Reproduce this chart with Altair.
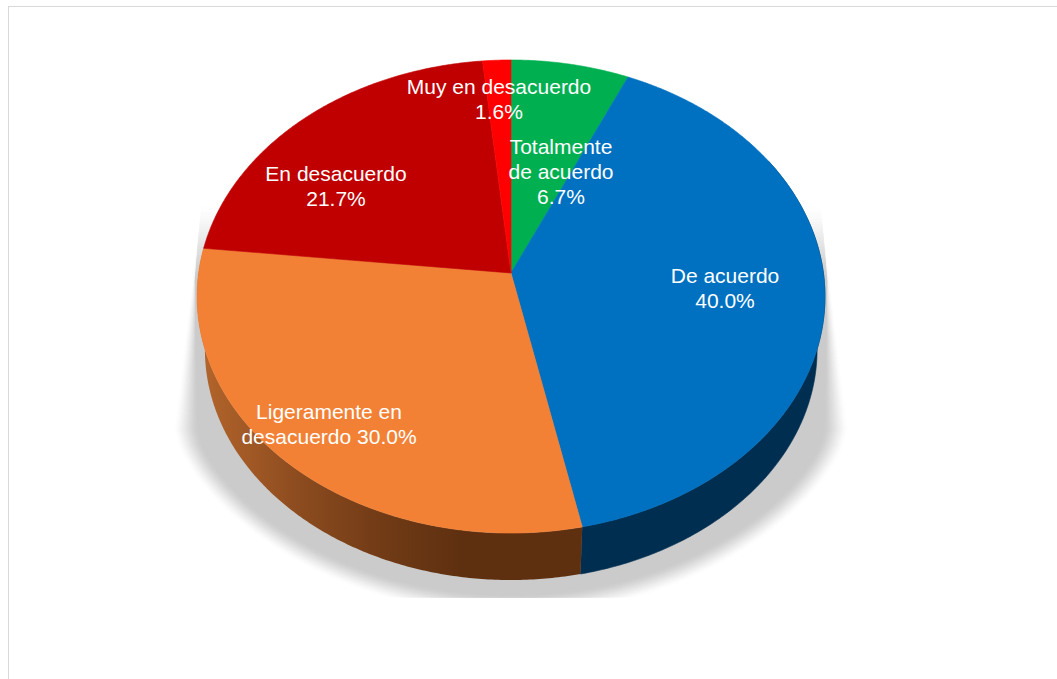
import numpy as np
import altair as alt

# Survey answers, clockwise from twelve o'clock
categories = ["Totalmente de acuerdo", "De acuerdo", "Ligeramente en desacuerdo",
              "En desacuerdo", "Muy en desacuerdo"]
percentages = [6.7, 40.0, 30.0, 21.7, 1.6]
face_colors = ["#00B050", "#0070C0", "#F38135", "#C00000", "#FF0000"]
label_lines = [["Totalmente", "de acuerdo"], ["De acuerdo"], ["Ligeramente en"],
               ["En desacuerdo"], ["Muy en desacuerdo"]]
label_x = [561, 725, 329, 336, 499]
label_y = [148, 277, 413, 175, 88]

FONT = "Liberation Sans"
W, H = 1057, 679
CX, APEX_Y = 511.0, 273.0
A, B, K = 312.4, 234.2, 0.0994   # tilted disc: perspective projection of the pie circle
DEPTH_SCALE, RIM_Y = 0.975, 326.5


def rim(t_deg, scale=1.0, y0=APEX_Y):
    t = np.radians(np.asarray(t_deg, dtype=float))
    d = 1 + K * np.cos(t)
    return CX + scale * A * np.sin(t) / d, y0 - scale * B * np.cos(t) / d


def feature(points, fill):
    ring = [[float(x), float(y)] for x, y in points]
    ring.append(ring[0])
    return {"type": "Feature", "properties": {"fill": fill},
            "geometry": {"type": "Polygon", "coordinates": [ring]}}


edges = np.cumsum([0.0] + percentages) * 3.6

# Top faces of the wedges
faces = []
for c, lo, hi in zip(face_colors, edges[:-1], edges[1:]):
    ts = np.linspace(lo, hi, max(int(hi - lo) * 2, 4))
    xs, ys = rim(ts)
    faces.append(feature([(CX, APEX_Y)] + list(zip(xs, ys)), c))


def wall(lo, hi, fill):
    ts = np.linspace(lo, hi, 200)
    tx, ty = rim(ts)
    bx, by = rim(ts[::-1], DEPTH_SCALE, RIM_Y)
    return feature(list(zip(tx, ty)) + list(zip(bx, by)), fill)


# Soft drop shadow: nested outlines running from white to the shadow grey.
# Paler outlines reach further up the flanks, so the shadow fades out towards the top.
SHADOW_LEVELS = 28
shadow = []
for i in range(SHADOW_LEVELS):
    f = i / (SHADOW_LEVELS - 1)
    ease = 0.5 * f + 0.5 * f * f * (3 - 2 * f)
    grey = int(round(255 + (203 - 255) * ease))
    rx, ry = 337 - 24 * f, 185 - 20 * f
    dx = np.linspace(-rx, rx, 160)
    dy = ry * (1 - (dx / rx) ** 2).clip(0) ** (2 / 3)
    lower = list(zip(CX + dx, np.minimum(430 + dy, 597)))
    y_top = 205 + 75 * f
    half = 309 + 7 * f
    top = [(CX + half, y_top), (CX + 250, y_top), (CX - 250, y_top), (CX - half, y_top)]
    shadow.append(feature(lower + top, f"rgb({grey},{grey},{grey})"))

proj = dict(type="identity", scale=1, translate=[0, 0])


def polygons(features):
    return (alt.Chart(alt.Data(values=features))
            .mark_geoshape(strokeWidth=0.6)
            .encode(fill=alt.Fill("properties.fill:N", scale=None),
                    stroke=alt.Stroke("properties.fill:N", scale=None))
            .project(**proj))


shadow_layer = polygons(shadow)
blue_wall = polygons([wall(60, edges[2], "#002E50")])
orange_wall = (alt.Chart(alt.Data(values=[wall(edges[2], edges[3], "#000")]))
               .mark_geoshape(strokeWidth=0, fill=alt.Gradient(
                   gradient="linear", x1=0, x2=1, y1=0, y2=0,
                   stops=[alt.GradientStop(offset=0.0, color="#B4662C"),
                          alt.GradientStop(offset=0.1, color="#A65C27"),
                          alt.GradientStop(offset=0.28, color="#8A4A1E"),
                          alt.GradientStop(offset=0.48, color="#713B16"),
                          alt.GradientStop(offset=0.68, color="#5F3010"),
                          alt.GradientStop(offset=1.0, color="#5F3010")]))
               .project(**proj))
face_layer = polygons(faces)

# Data labels: category lines followed by the percentage
label_rows = []
for lines, pct, x, y in zip(label_lines, percentages, label_x, label_y):
    if lines == ["Ligeramente en"]:
        text = ["Ligeramente en", f"desacuerdo {pct:.1f}%"]
    else:
        text = lines + [f"{pct:.1f}%"]
    label_rows.append({"text": text, "px": x, "py": y})

labels = (alt.Chart(alt.Data(values=label_rows))
          .mark_text(font=FONT, fontSize=21, color="white", align="center",
                     baseline="middle", lineHeight=25)
          .encode(x=alt.X("px:Q", scale=alt.Scale(domain=[0, W], range=[0, W]), axis=None),
                  y=alt.Y("py:Q", scale=alt.Scale(domain=[0, H], range=[0, H]), axis=None),
                  text="text:N"))

# Chart frame: only its top and left edges fall inside the window
frame_left = alt.Chart(alt.Data(values=[{}])).mark_rule(color="#D9D9D9", strokeWidth=1).encode(
    x=alt.value(8.5), y=alt.value(6), y2=alt.value(H))
frame_top = alt.Chart(alt.Data(values=[{}])).mark_rule(color="#D9D9D9", strokeWidth=1).encode(
    y=alt.value(6.5), x=alt.value(8), x2=alt.value(W))

chart = (alt.layer(frame_left, frame_top, shadow_layer, blue_wall, orange_wall, face_layer, labels)
         .resolve_scale(x="independent", y="independent")
         .properties(width=W, height=H, padding=0, autosize="none", background="white")
         .configure_view(stroke=None))

chart.save("out.html", embed_options={"renderer": "svg", "actions": False})
